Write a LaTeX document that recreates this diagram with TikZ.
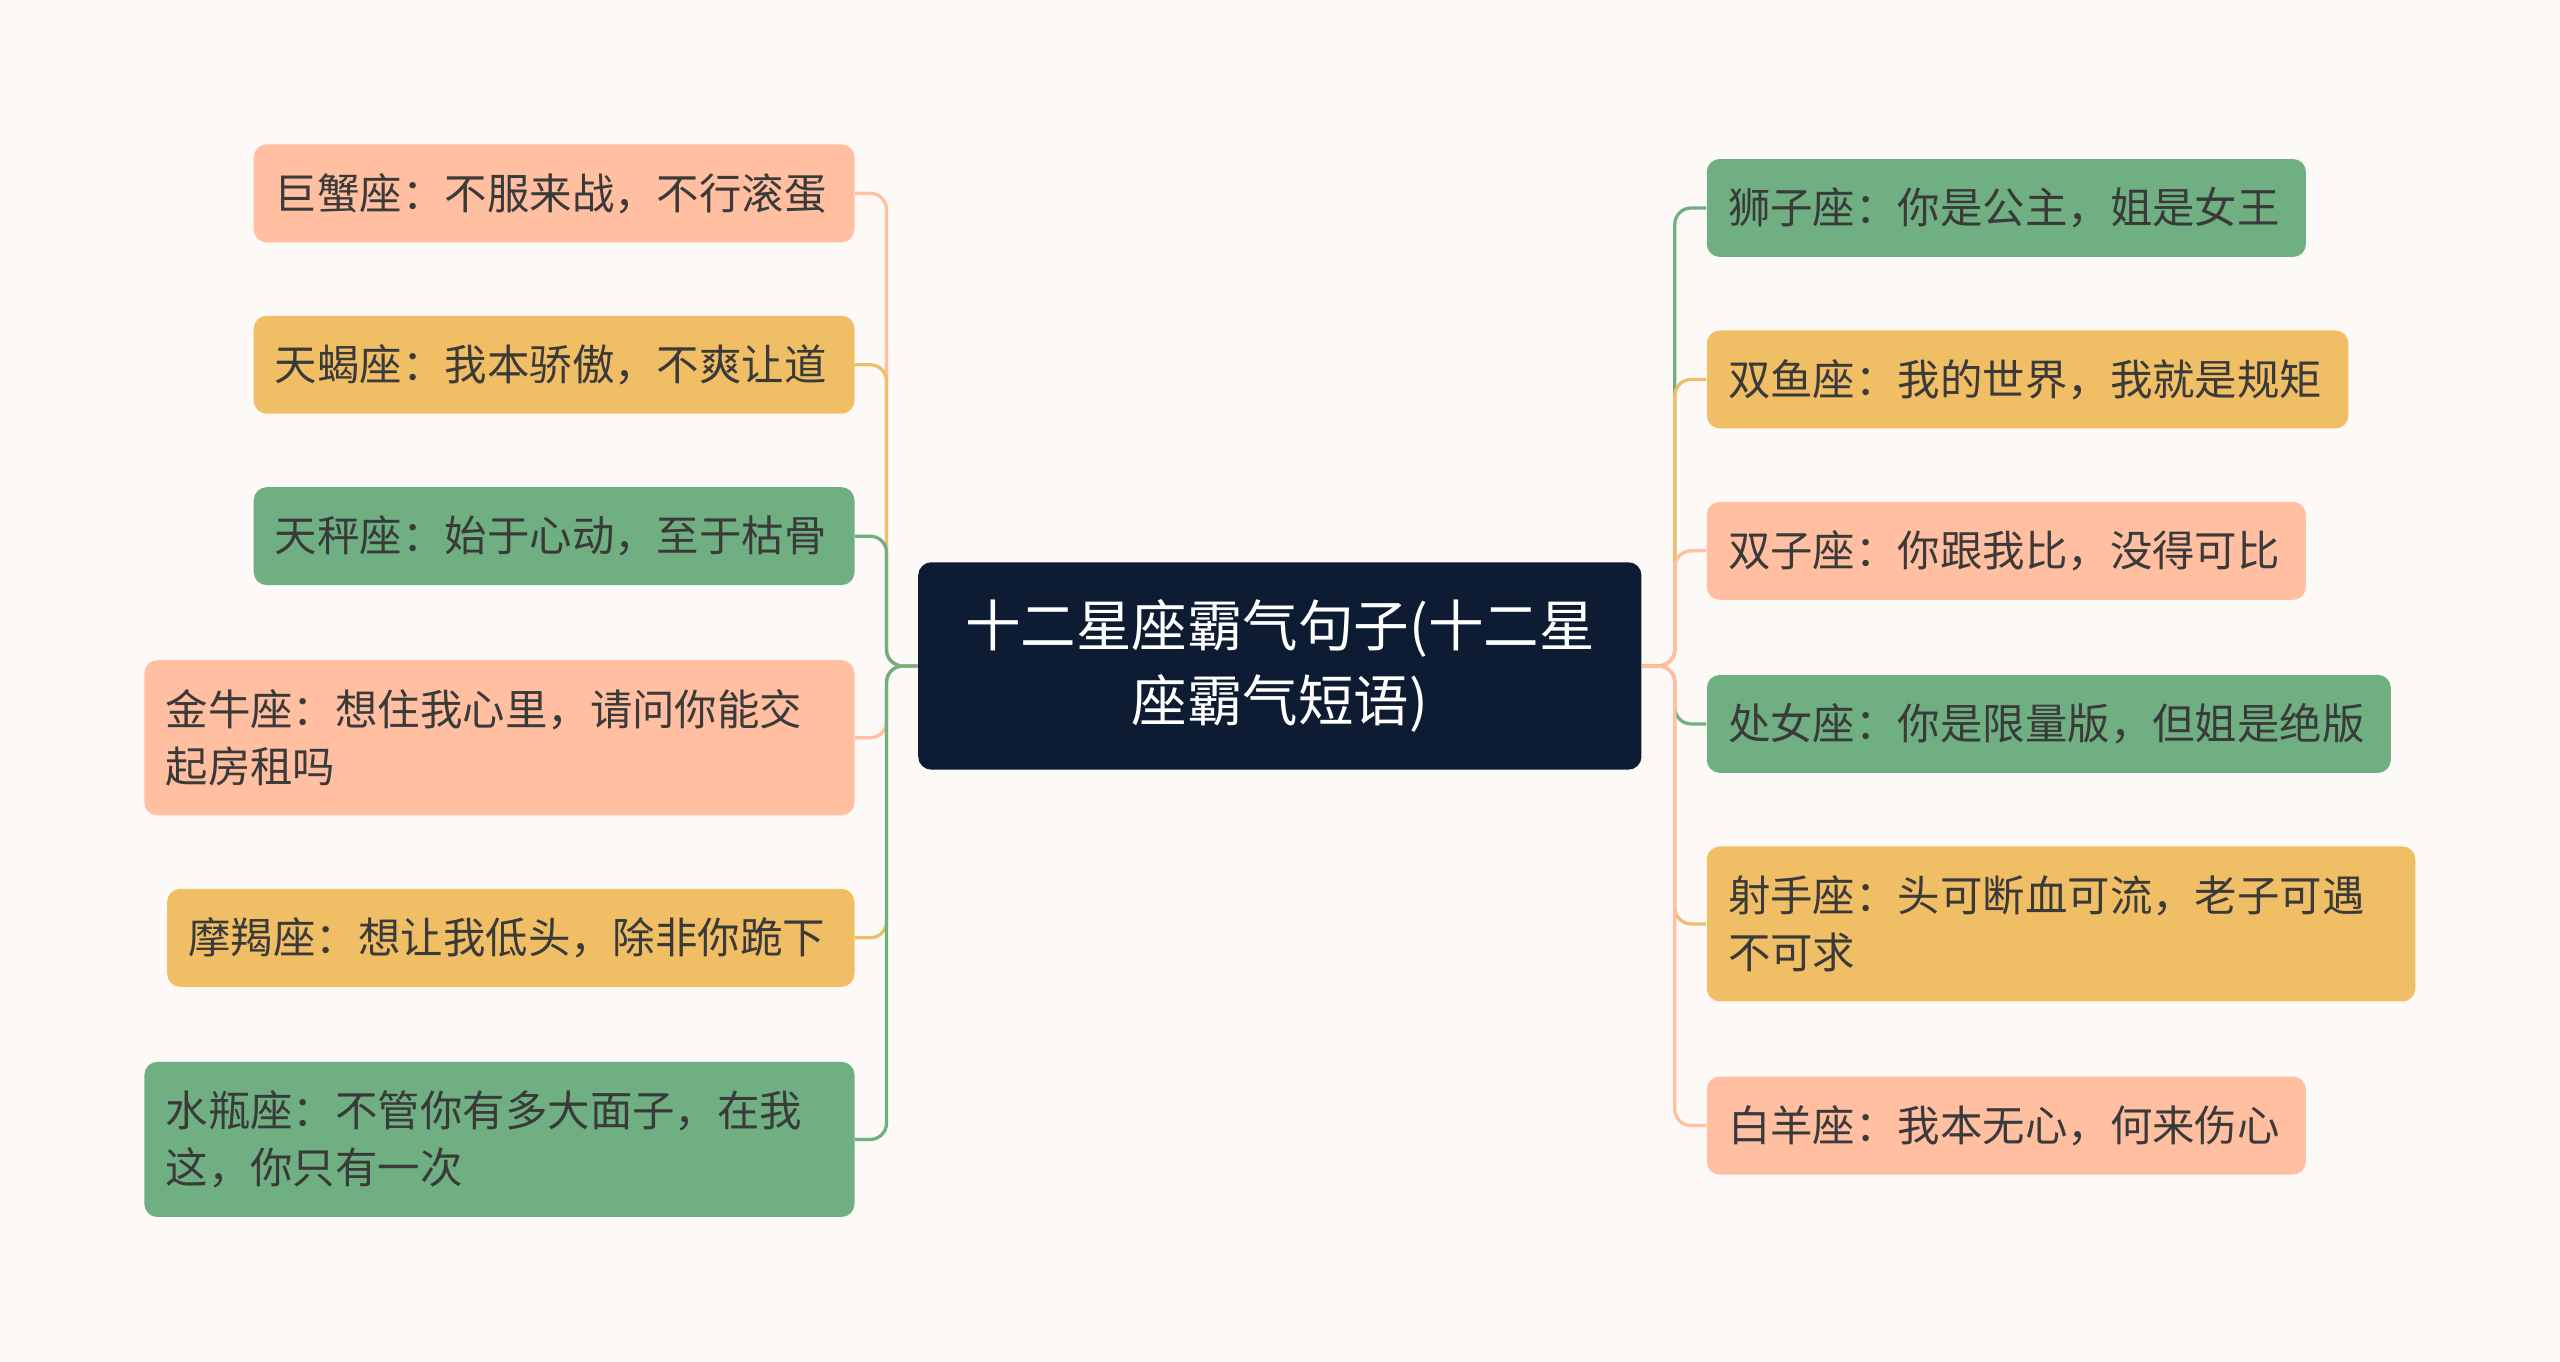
\documentclass[tikz,border=0pt]{standalone}
\usepackage{fontspec}
\setmainfont{Noto Sans CJK SC}
\definecolor{bg}{HTML}{FDF9F7}
\definecolor{sal}{HTML}{FFBFA0}
\definecolor{yel}{HTML}{F0BE64}
\definecolor{grn}{HTML}{6FAF82}
\definecolor{navy}{HTML}{0D1B33}
\definecolor{txt}{HTML}{3A3A3A}
\begin{document}
\begin{tikzpicture}[x=0.5pt,y=-0.5pt,
  box/.style={fill=#1,rounded corners=4pt,anchor=north west,align=left,inner xsep=6.5pt,inner ysep=0pt,text=txt,font=\fontsize{13pt}{17.5pt}\selectfont},
  conn/.style={draw=#1,line width=1pt,rounded corners=5pt}]
\fill[bg] (0,0) rectangle (1568,834);
\node[fill=navy,rounded corners=4pt,anchor=north west,minimum width=221.5pt,minimum height=63.5pt,text width=205pt,align=center,text=white,font=\fontsize{17pt}{23pt}\selectfont,inner sep=0pt] (c) at (562,344) {十二星座霸气句子(十二星\\座霸气短语)};
% left
\node[box=sal,minimum width=184pt,minimum height=30pt,text width=171pt] (l1) at (155,88) {巨蟹座：不服来战，不行滚蛋};
\node[box=yel,minimum width=184pt,minimum height=30pt,text width=171pt] (l2) at (155,193) {天蝎座：我本骄傲，不爽让道};
\node[box=grn,minimum width=184pt,minimum height=30pt,text width=171pt] (l3) at (155,298) {天秤座：始于心动，至于枯骨};
\node[box=sal,minimum width=217.5pt,minimum height=47.5pt,text width=204.5pt] (l4) at (88,404) {金牛座：想住我心里，请问你能交\\起房租吗};
\node[box=yel,minimum width=210.5pt,minimum height=30pt,text width=197.5pt] (l5) at (102,544) {摩羯座：想让我低头，除非你跪下};
\node[box=grn,minimum width=217.5pt,minimum height=47.5pt,text width=204.5pt] (l6) at (88,650) {水瓶座：不管你有多大面子，在我\\这，你只有一次};
% right
\node[box=grn,minimum width=183.5pt,minimum height=30pt,text width=170.5pt] (r1) at (1045,97) {狮子座：你是公主，姐是女王};
\node[box=yel,minimum width=196.5pt,minimum height=30pt,text width=183.5pt] (r2) at (1045,202) {双鱼座：我的世界，我就是规矩};
\node[box=sal,minimum width=183.5pt,minimum height=30pt,text width=170.5pt] (r3) at (1045,307) {双子座：你跟我比，没得可比};
\node[box=grn,minimum width=209.5pt,minimum height=30pt,text width=196.5pt] (r4) at (1045,413) {处女座：你是限量版，但姐是绝版};
\node[box=yel,minimum width=217pt,minimum height=47.5pt,text width=204pt] (r5) at (1045,518) {射手座：头可断血可流，老子可遇\\不可求};
\node[box=sal,minimum width=183.5pt,minimum height=30pt,text width=170.5pt] (r6) at (1045,659) {白羊座：我本无心，何来伤心};
\foreach \n/\col in {l1/sal,l2/yel,l3/grn,l4/sal,l5/yel,l6/grn}
  \draw[conn=\col] (c.west) -- ++(-19,0) |- (\n.east);
\foreach \n/\col in {r1/grn,r2/yel,r3/sal,r4/grn,r5/yel,r6/sal}
  \draw[conn=\col] (c.east) -- ++(20,0) |- (\n.west);
\end{tikzpicture}
\end{document}
